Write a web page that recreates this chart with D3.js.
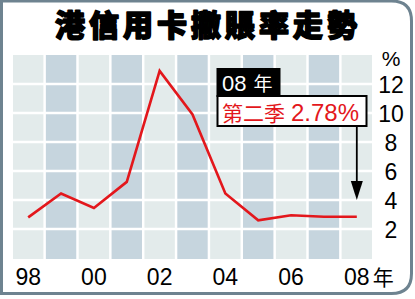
<!DOCTYPE html>
<html>
<head>
<meta charset="utf-8">
<script src="https://cdn.jsdelivr.net/npm/d3@7"></script>
<style>
  html, body { margin: 0; padding: 0; background: #fff; }
  svg { display: block; }
</style>
</head>
<body>
<div id="chart"></div>
<script>
const years = ["98", "99", "00", "01", "02", "03", "04", "05", "06", "07", "08"];
const rates = [2.8, 4.45, 3.45, 5.25, 12.9, 9.9, 4.45, 2.6, 2.95, 2.85, 2.85];
const yTicks = [2, 4, 6, 8, 10, 12];
const xLabels = ["98", "00", "02", "04", "06", "08"];
const titleText = "港信用卡撇賬率走勢";
const noteYear = "08";
const noteQuarter = "第二季";
const noteValue = "2.78%";

const width = 415;
const height = 299;
const plotLeft = 13;
const plotRight = 372;
const plotTop = 55;
const plotBottom = 259;

const frameColor = "#6e8390";
const lightCol = "#e3ebeb";
const darkCol = "#c6d5de";
const red = "#e3171c";
const latin = "'Liberation Sans', Arial, sans-serif";
const cjk = "'Noto Sans CJK TC', 'Noto Sans CJK SC', sans-serif";

const x = d3.scaleBand()
            .domain(years)
            .range([plotLeft, plotRight])
            .paddingInner(0.075)
            .paddingOuter(0);

const y = d3.scaleLinear()
            .domain([0, 14])
            .range([plotBottom - 1, plotTop]);

const cx = d => x(d) + x.bandwidth() / 2;

const svg = d3.select("#chart")
              .append("svg")
              .attr("width", width)
              .attr("height", height);

// frame with rounded right corners
const r = 20, fl = 1.5, ft = 1, fr = 411.5, fb = 293.5;
svg.append("path")
   .attr("d", `M${fl},${ft} H${fr - r} Q${fr},${ft} ${fr},${ft + r} V${fb - r} Q${fr},${fb} ${fr - r},${fb} H${fl} Z`)
   .attr("fill", "#fff")
   .attr("stroke", frameColor)
   .attr("stroke-width", 3);

// title
svg.append("text")
   .attr("x", 208)
   .attr("y", 36)
   .attr("text-anchor", "middle")
   .attr("font-family", cjk)
   .attr("font-weight", 900)
   .attr("font-size", 30)
   .attr("letter-spacing", 4)
   .attr("fill", "#000")
   .attr("stroke", "#000")
   .attr("stroke-width", 1.6)
   .attr("stroke-linejoin", "round")
   .text(titleText);

// column bands
svg.append("g")
   .selectAll("rect")
   .data(years)
   .enter()
   .append("rect")
   .attr("x", d => x(d))
   .attr("y", plotTop)
   .attr("width", x.bandwidth())
   .attr("height", plotBottom - plotTop)
   .attr("fill", (d, i) => i % 2 === 0 ? lightCol : darkCol);

// horizontal white gridlines
svg.append("g")
   .selectAll("line")
   .data(yTicks)
   .enter()
   .append("line")
   .attr("x1", plotLeft)
   .attr("x2", plotRight)
   .attr("y1", d => y(d))
   .attr("y2", d => y(d))
   .attr("stroke", "#fff")
   .attr("stroke-width", 2.5);

// y axis labels
const yAxis = d3.axisRight(y)
                .tickValues(yTicks)
                .tickSize(0)
                .tickPadding(0);

const gy = svg.append("g")
              .attr("transform", `translate(391,0)`)
              .call(yAxis);
gy.select(".domain").remove();
gy.selectAll("text")
  .attr("x", 0)
  .attr("dy", "0.36em")
  .attr("text-anchor", "middle")
  .attr("font-family", latin)
  .attr("font-size", 23)
  .attr("fill", "#000");

svg.append("text")
   .attr("x", 391)
   .attr("y", 66)
   .attr("text-anchor", "middle")
   .attr("font-family", latin)
   .attr("font-size", 21)
   .text("%");

// x axis labels
const xAxis = d3.axisBottom(x)
                .tickValues(xLabels)
                .tickSize(0)
                .tickPadding(0);

const gx = svg.append("g")
              .attr("transform", `translate(0,285)`)
              .call(xAxis);
gx.select(".domain").remove();
gx.selectAll("text")
  .attr("y", 0)
  .attr("dy", 0)
  .attr("font-family", latin)
  .attr("font-size", 23)
  .attr("fill", "#000");

svg.append("text")
   .attr("x", cx("08") + 16)
   .attr("y", 285)
   .attr("font-family", cjk)
   .attr("font-size", 21)
   .text("年");

// rate line
const line = d3.line()
               .x((d, i) => cx(years[i]))
               .y(d => y(d));

svg.append("path")
   .datum(rates)
   .attr("d", line)
   .attr("fill", "none")
   .attr("stroke", red)
   .attr("stroke-width", 2.6)
   .attr("stroke-linejoin", "miter");

// annotation
const ax = cx("08");
svg.append("line")
   .attr("x1", ax)
   .attr("x2", ax)
   .attr("y1", 126)
   .attr("y2", 186)
   .attr("stroke", "#000")
   .attr("stroke-width", 1.8);

svg.append("path")
   .attr("d", `M${ax - 6},${181} L${ax + 6},${181} L${ax},${200} Z`)
   .attr("fill", "#000");

svg.append("rect")
   .attr("x", 216.5)
   .attr("y", 68)
   .attr("width", 64)
   .attr("height", 29)
   .attr("fill", "#000");

const t1 = svg.append("text")
              .attr("x", 222)
              .attr("y", 91)
              .attr("fill", "#fff");
t1.append("tspan")
  .attr("font-family", latin)
  .attr("font-size", 22)
  .text(noteYear);
t1.append("tspan")
  .attr("dx", 7)
  .attr("font-family", cjk)
  .attr("font-size", 19)
  .text("年");

svg.append("rect")
   .attr("x", 217.5)
   .attr("y", 96)
   .attr("width", 149)
   .attr("height", 30)
   .attr("fill", "#fff")
   .attr("stroke", "#000")
   .attr("stroke-width", 2);

const t2 = svg.append("text")
              .attr("x", 222)
              .attr("y", 121)
              .attr("fill", red);
t2.append("tspan")
  .attr("font-family", cjk)
  .attr("font-size", 21)
  .text(noteQuarter);
t2.append("tspan")
  .attr("dx", 6)
  .attr("font-family", latin)
  .attr("font-size", 24)
  .text(noteValue);
</script>
</body>
</html>
